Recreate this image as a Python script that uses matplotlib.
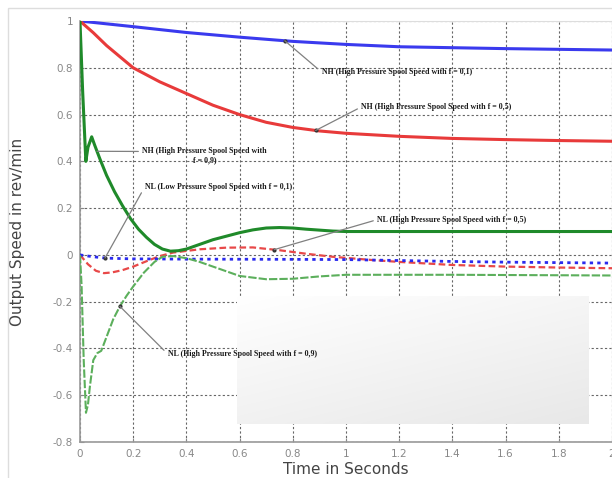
import numpy as np
import matplotlib
matplotlib.use("Agg")
from matplotlib import pyplot as plt
from matplotlib.patches import Rectangle

# --- data ---
t_nh1 = [0, 0.2, 0.4, 0.6, 0.8, 1.0, 1.2, 1.4, 1.6, 1.8, 2.0]
nh1 = [1.0, 0.976, 0.951, 0.931, 0.913, 0.90, 0.89, 0.886, 0.882, 0.879, 0.876]

t_nh5 = [0, 0.05, 0.1, 0.2, 0.3, 0.4, 0.5, 0.6, 0.7, 0.8, 0.9, 1.0, 1.2, 1.4, 1.6, 1.8, 2.0]
nh5 = [1.0, 0.95, 0.895, 0.80, 0.74, 0.69, 0.64, 0.60, 0.567, 0.545, 0.53, 0.52,
       0.507, 0.498, 0.493, 0.489, 0.486]

t_nh9 = [0, 0.01, 0.022, 0.03, 0.044, 0.055, 0.075, 0.1, 0.13, 0.16, 0.19, 0.22, 0.25,
         0.28, 0.31, 0.34, 0.37, 0.4, 0.45, 0.5, 0.55, 0.6, 0.65, 0.7, 0.75, 0.8,
         0.85, 0.9, 0.95, 1.0, 2.0]
nh9 = [1.0, 0.7, 0.40, 0.46, 0.505, 0.47, 0.41, 0.34, 0.27, 0.21, 0.155, 0.11, 0.075,
       0.045, 0.025, 0.016, 0.018, 0.025, 0.045, 0.065, 0.08, 0.095, 0.107, 0.115,
       0.117, 0.115, 0.11, 0.106, 0.102, 0.10, 0.10]

t_nl5 = [0, 0.03, 0.06, 0.09, 0.12, 0.16, 0.2, 0.25, 0.3, 0.35, 0.45, 0.55, 0.65, 0.75,
         0.85, 0.95, 1.1, 1.2, 1.4, 1.6, 1.8, 2.0]
nl5 = [0, -0.04, -0.068, -0.078, -0.075, -0.065, -0.05, -0.027, -0.005, 0.01, 0.024,
       0.031, 0.032, 0.02, 0.005, -0.008, -0.022, -0.03, -0.043, -0.05, -0.054, -0.057]

t_nl1 = [0, 0.05, 0.1, 0.2, 0.4, 0.8, 1.0, 1.2, 1.4, 1.6, 1.8, 2.0]
nl1 = [0, -0.008, -0.014, -0.017, -0.018, -0.019, -0.02, -0.024, -0.028, -0.031,
       -0.033, -0.035]

t_nl9 = [0, 0.006, 0.014, 0.0225, 0.03, 0.0375, 0.05, 0.065, 0.08, 0.1, 0.125, 0.15,
         0.175, 0.2, 0.24, 0.28, 0.31, 0.35, 0.4, 0.45, 0.5, 0.55, 0.6, 0.7, 0.8, 0.9,
         1.0, 1.4, 2.0]
nl9 = [0, -0.13, -0.45, -0.675, -0.64, -0.56, -0.45, -0.42, -0.41, -0.35, -0.275, -0.22,
       -0.175, -0.135, -0.076, -0.03, -0.008, -0.005, -0.014, -0.03, -0.05, -0.07,
       -0.09, -0.104, -0.102, -0.092, -0.085, -0.085, -0.088]

x_ticks = [0, 0.2, 0.4, 0.6, 0.8, 1, 1.2, 1.4, 1.6, 1.8, 2]
x_tick_labels = ["0", "0.2", "0.4", "0.6", "0.8", "1", "1.2", "1.4", "1.6", "1.8", "2"]
y_ticks = [-0.8, -0.6, -0.4, -0.2, 0, 0.2, 0.4, 0.6, 0.8, 1]
y_tick_labels = ["-0.8", "-0.6", "-0.4", "-0.2", "0", "0.2", "0.4", "0.6", "0.8", "1"]

fig = plt.figure(figsize=(6.12, 4.78), dpi=100)
ax = fig.add_axes([0.1307, 0.0753, 0.8693, 0.8807])

# outer light frame
fig.patches.append(Rectangle((8 / 612, -0.01), 1.0, 1 - 8 / 478 + 0.01,
                             transform=fig.transFigure, fill=False,
                             ec='#dddddd', lw=1.0))

# --- curves ---
ax.plot(t_nh1, nh1, color='#3a3aee', lw=2.2, zorder=5)
ax.plot(t_nh5, nh5, color='#e83a3a', lw=2.2, zorder=5)
ax.plot(t_nh9, nh9, color='#1f8a2a', lw=2.2, zorder=5)
ax.plot(t_nl5, nl5, color='#e84848', lw=1.6, ls=(0, (3, 1.5)), zorder=4)
ax.plot(t_nl1, nl1, color='#2a2aee', lw=2.0, ls=(0, (1.2, 1.5)), zorder=4)
ax.plot(t_nl9, nl9, color='#5caf5c', lw=1.5, ls=(0, (4, 1)), zorder=4)

# --- annotations ---
ann_kw = dict(fontsize=5.7, fontweight='bold', family='Liberation Serif',
              color='#1a1a1a', ha='left', va='center', zorder=10)

def annotate(text, tx, series_t, series_v, xy_text, relpos=(0, 0.5)):
    ty = np.interp(tx, series_t, series_v)
    ax.annotate(text, xy=(tx, ty), xytext=xy_text,
                arrowprops=dict(arrowstyle='-', color='#808080', lw=0.9,
                                shrinkA=1, shrinkB=0, relpos=relpos),
                **ann_kw)
    ax.plot([tx], [ty], 'o', ms=2, color='#333333', zorder=9)

annotate("NH (High Pressure Spool Speed with f = 0,1)", 0.77, t_nh1, nh1, (0.908, 0.782))
annotate("NH (High Pressure Spool Speed with f = 0,5)", 0.886, t_nh5, nh5, (1.058, 0.633))
annotate("NL (Low Pressure Spool Speed with f = 0,1)", 0.094, t_nl1, nl1, (0.244, 0.292))
annotate("NL (High Pressure Spool Speed with f = 0,5)", 0.73, t_nl5, nl5, (1.118, 0.151))
annotate("NL (High Pressure Spool Speed with f = 0,9)", 0.15, t_nl9, nl9, (0.33, -0.424))

ty = np.interp(0.064, t_nh9, nh9)
ax.annotate("NH (High Pressure Spool Speed with\nf = 0,9)", xy=(0.064, ty),
            xytext=(0.235, 0.424), multialignment='center',
            arrowprops=dict(arrowstyle='-', color='#808080', lw=0.9,
                            shrinkA=1, shrinkB=0, relpos=(0, 0.75)),
            **ann_kw)

# light gray box covering part of the plot (soft gradient)
gy, gx = np.mgrid[0:1:64j, 0:1:256j]
shade = 1.0 - 0.09 * (0.6 * gy + 0.4 * gx)
box_rgb = np.dstack([shade, shade, shade])
ax.imshow(box_rgb, extent=[0.59, 1.91, -0.723, -0.177], aspect='auto',
          zorder=6, interpolation='bilinear')

# --- axes styling ---
ax.set_xlim(0, 2)
ax.set_ylim(-0.8, 1)
ax.set_xticks(x_ticks)
ax.set_xticklabels(x_tick_labels)
ax.set_yticks(y_ticks)
ax.set_yticklabels(y_tick_labels)
ax.tick_params(colors='#888888', labelsize=7.5, length=3, direction='in', pad=5)
ax.grid(True, color='#666666', ls=(0, (2, 2)), lw=0.8)
for side in ['left', 'bottom']:
    ax.spines[side].set_color('#999999')
    ax.spines[side].set_linewidth(1.2)
for side in ['top', 'right']:
    ax.spines[side].set_color('#dddddd')

ax.set_xlabel('Time in Seconds', fontsize=11, color='#444444', labelpad=2)
ax.set_ylabel('Output Speed in rev/min', fontsize=11, color='#444444', labelpad=20)

fig.savefig('out.png', dpi=100)
